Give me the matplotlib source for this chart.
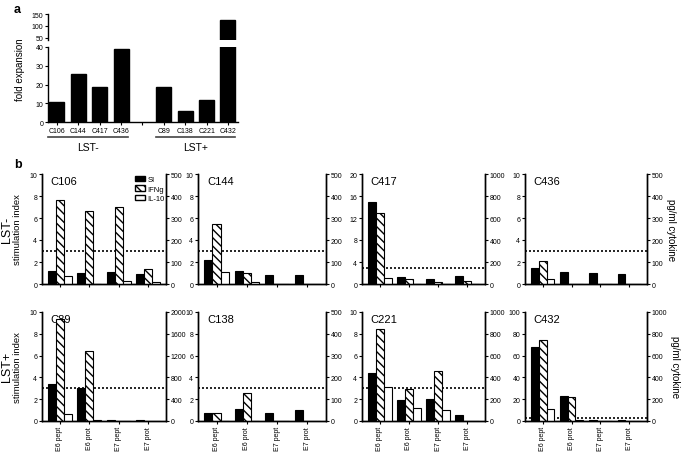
import matplotlib
matplotlib.use("Agg")
import matplotlib.pyplot as plt
from matplotlib.patches import Patch
import numpy as np

plt.rcParams['font.family'] = ['Liberation Sans', 'DejaVu Sans']
plt.rcParams['hatch.linewidth'] = 1.0
plt.rcParams['axes.linewidth'] = 1.0

# --------------------------------------------------
# DATA
# --------------------------------------------------
# Panel a: fold expansion
lst_neg_donors = ['C106', 'C144', 'C417', 'C436']
lst_pos_donors = ['C89', 'C138', 'C221', 'C432']
fold_lst_neg = [10.5, 25.5, 18.5, 39]
fold_lst_pos = [18.5, 6, 11.5, 125]

# Panel b: stimulation index (SI) and cytokines (pg/ml)
conditions = ['E6 pept', 'E6 prot', 'E7 pept', 'E7 prot']
donors = ['C106', 'C144', 'C417', 'C436', 'C89', 'C138', 'C221', 'C432']
si_values = [
    [1.2, 1.03, 1.12, 0.94],
    [2.2, 1.15, 0.79, 0.79],
    [15.0, 1.28, 0.85, 1.4],
    [1.45, 1.12, 1.03, 0.94],
    [3.42, 3.03, 0.08, 0.08],
    [0.75, 1.13, 0.75, 1.05],
    [4.4, 1.9, 2.0, 0.59],
    [68, 23, 1.0, 1.2],
]
ifng_values = [
    [382, 333, 348, 68],
    [273, 51, 0, 0],
    [650, 50, 20, 25],
    [105, 0, 0, 0],
    [1870, 1290, 0, 0],
    [37, 127, 0, 0],
    [840, 290, 456, 0],
    [740, 220, 0, 0],
]
il10_values = [
    [35, 0, 15, 8],
    [53, 10, 0, 0],
    [55, 0, 0, 0],
    [24, 0, 0, 0],
    [130, 20, 0, 0],
    [0, 0, 0, 0],
    [312, 123, 105, 0],
    [110, 10, 0, 0],
]
si_max = [10, 10, 20, 10, 10, 10, 10, 100]
cyt_max = [500, 500, 1000, 500, 2000, 500, 1000, 1000]
si_threshold = 3

W, H = 685, 456
fig = plt.figure(figsize=(W / 100, H / 100), dpi=100)


def px_axes(x0, y0, x1, y1):
    # rectangle given in pixel coords (top-left origin)
    return fig.add_axes([x0 / W, 1 - y1 / H, (x1 - x0) / W, (y1 - y0) / H])


tick_kw = dict(labelsize=5.0, length=2.5, width=0.8, pad=1.0)

# --------------------------------------------------
# Panel a (broken y axis)
# --------------------------------------------------
labels_a = lst_neg_donors + [''] + lst_pos_donors
fold_all = np.array(fold_lst_neg + [np.nan] + fold_lst_pos)
xa = np.arange(len(labels_a))
break_at = 40

ax_bot = px_axes(48, 48, 238, 123)
ax_top = px_axes(48, 15, 238, 41)
ax_bot.bar(xa, fold_all, 0.7, color='black', edgecolor='black')
big = np.where(fold_all > break_at, fold_all, np.nan)
ax_top.bar(xa, big, 0.7, color='black', edgecolor='black')
for a in (ax_bot, ax_top):
    a.set_xlim(-0.42, 8.47)
    a.spines['top'].set_visible(False)
    a.spines['right'].set_visible(False)
    a.tick_params(**tick_kw)
ax_bot.set_ylim(0, break_at)
ax_bot.set_yticks([0, 10, 20, 30, 40])
ax_bot.set_xticks(xa)
ax_bot.set_xticklabels(labels_a)
ax_top.set_ylim(break_at, 150)
ax_top.set_yticks([50, 100, 150])
ax_top.spines['bottom'].set_visible(False)
ax_top.set_xticks([])
fig.text(20 / W, 1 - 70 / H, 'fold expansion', rotation=90, ha='center',
         va='center', fontsize=7)

trans = ax_bot.get_xaxis_transform()
ax_bot.plot([-0.42, 3.32], [-0.2, -0.2], color='#444444', lw=1.2,
            transform=trans, clip_on=False)
ax_bot.plot([4.63, 8.32], [-0.2, -0.2], color='#444444', lw=1.2,
            transform=trans, clip_on=False)
ax_bot.text(1.45, -0.27, 'LST-', transform=trans, ha='center', va='top', fontsize=7.5)
ax_bot.text(6.48, -0.27, 'LST+', transform=trans, ha='center', va='top', fontsize=7.5)

fig.text(14 / W, 1 - 10 / H, 'a', fontsize=9, fontweight='bold', va='center')
fig.text(14 / W, 1 - 165 / H, 'b', fontsize=9, fontweight='bold', va='center')

# --------------------------------------------------
# Panel b
# --------------------------------------------------
col_px = [(42, 166), (198, 326), (362, 485), (525, 647)]
row_px = [(175, 285), (313, 422)]
xb = np.arange(len(conditions))
w = 0.27

for i, donor in enumerate(donors):
    r, c = divmod(i, 4)
    x0, x1 = col_px[c]
    y0, y1 = row_px[r]
    ax = px_axes(x0, y0, x1, y1)
    ax2 = ax.twinx()

    ax.bar(xb - w, si_values[i], w, color='black', edgecolor='black',
           linewidth=0.8, label='SI')
    ax2.bar(xb, ifng_values[i], w, color='white', edgecolor='black',
            hatch='\\\\\\\\', linewidth=0.8, label='IFNg')
    ax2.bar(xb + w, il10_values[i], w, color='white', edgecolor='black',
            linewidth=0.8, label='IL-10')
    ax.axhline(si_threshold, color='black', linestyle=(0, (1.2, 1.2)), lw=1.2)

    ax.set_xlim(-0.61, 3.61)
    ax.set_ylim(0, si_max[i])
    ax.set_yticks(np.linspace(0, si_max[i], 6))
    ax.set_yticklabels([f'{v:g}' for v in np.linspace(0, si_max[i], 6)])
    ax2.set_ylim(0, cyt_max[i])
    ax2.set_yticks(np.linspace(0, cyt_max[i], 6))
    ax2.set_yticklabels([f'{v:g}' for v in np.linspace(0, cyt_max[i], 6)])
    ax.set_xticks(xb)
    if r == 1:
        ax.set_xticklabels(conditions, rotation=90)
    else:
        ax.set_xticklabels([])
    for a in (ax, ax2):
        a.spines['top'].set_visible(False)
        a.tick_params(**tick_kw)

    ax.text(0.07, 0.98, donor, transform=ax.transAxes, ha='left', va='top',
            fontsize=8)

    if c == 0:
        ax.set_ylabel('stimulation index', fontsize=6.8)
        ax.yaxis.set_label_coords(-0.16, 0.5)
    if c == 3:
        ax2.set_ylabel('pg/ml cytokine', fontsize=7, rotation=270, labelpad=9)

    if i == 0:
        handles = [
            Patch(facecolor='black', edgecolor='black', label='SI'),
            Patch(facecolor='white', edgecolor='black', hatch='\\\\\\\\', label='IFNg'),
            Patch(facecolor='white', edgecolor='black', label='IL-10'),
        ]
        ax2.legend(handles=handles, loc='upper right', frameon=False,
                   fontsize=5.5, handlelength=1.3, handleheight=0.8,
                   labelspacing=0.25, handletextpad=0.3,
                   borderaxespad=0.1, borderpad=0.1)

fig.text(7 / W, 1 - 230 / H, 'LST-', rotation=90, ha='center', va='center',
         fontsize=9)
fig.text(7 / W, 1 - 367 / H, 'LST+', rotation=90, ha='center', va='center',
         fontsize=9)

plt.savefig('out.png', dpi=100)
